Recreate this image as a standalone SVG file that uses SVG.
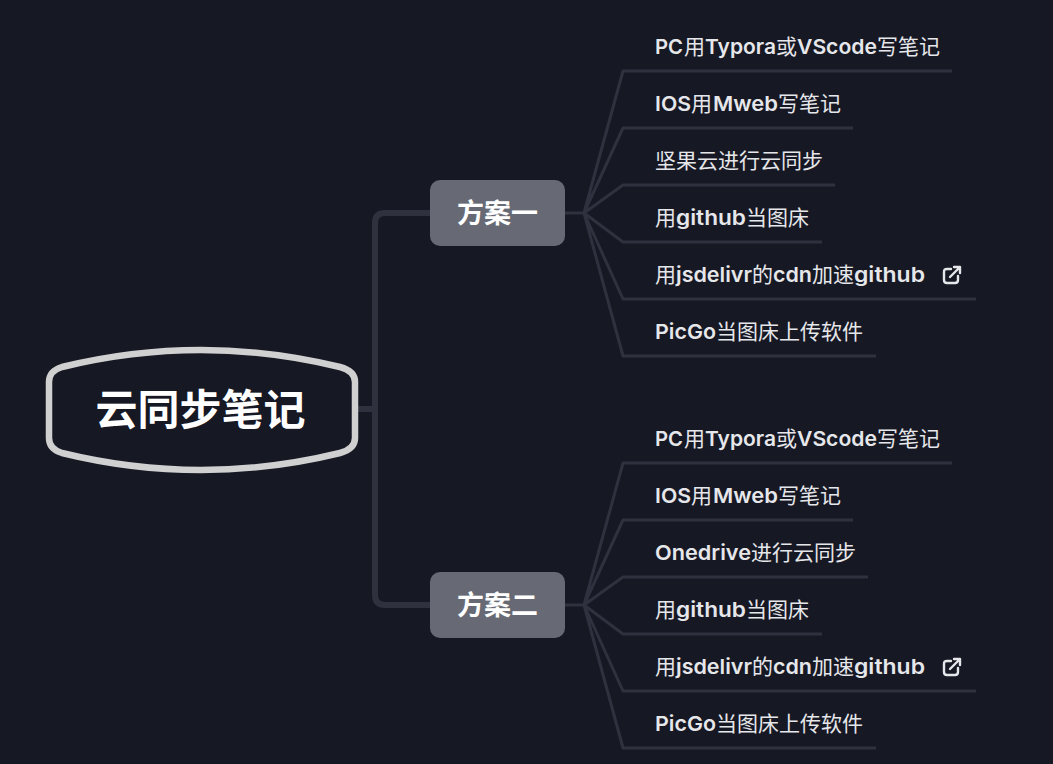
<svg xmlns="http://www.w3.org/2000/svg" width="1053" height="764" viewBox="0 0 1053 764">
<style>
.conn{fill:none;stroke:#2f313f;stroke-linecap:butt;stroke-linejoin:round}
.thick{stroke-width:6}
.thin{stroke-width:3}
.root{fill:#161824;stroke:#d0d0d0;stroke-width:6.5}
.branch{fill:#676a75}
text{font-family:"Noto Sans CJK SC","Noto Sans",sans-serif}
.title{fill:#fff;font-size:42px;font-weight:700}
.sub{fill:#fff;font-size:27px;font-weight:700}
.leaf{fill:#e6e7ea;font-size:21px;font-weight:400}
.l{font-family:Inter,"Liberation Sans",sans-serif;font-weight:600;font-size:20.5px}
.icon{fill:none;stroke:#e6e7ea;stroke-width:2.400;stroke-linecap:round;stroke-linejoin:round}
</style>
<defs>
<g id="ext"><path class="icon" d="M8 3H4Q1 3 1 6V14Q1 17 4 17H12Q15 17 15 14V10M7 11L17 1M11 1H17V7"/></g>
</defs>
<rect width="1053" height="764" fill="#161824"/>
<g id="connectors">
<path class="conn thick" d="M358 409H375M430 213H385Q375 213 375 223V595Q375 605 385 605H430"/>
<path class="conn thin" d="M565 213H584M584 213L623 71H952M584 213L623 128H853M584 213L623 185H835M584 213L623 242H822M584 213L623 299H976M584 213L623 356H876"/>
<path class="conn thin" d="M565 605H584M584 605L623 463H952M584 605L623 520H853M584 605L623 577H868M584 605L623 634H822M584 605L623 691H976M584 605L623 748H876"/>
</g>
<g id="root">
<path class="root" d="M62 367Q201 333 340 367Q355 371 355 382V438Q355 449 340 453Q201 487 62 453Q49 449 49 438V382Q49 371 62 367Z"/>
<text class="title" x="200.500" y="425" text-anchor="middle">云同步笔记</text>
</g>
<g id="plan1">
<rect class="branch" x="430" y="180" width="135" height="66" rx="10"/>
<text class="sub" x="497.500" y="223" text-anchor="middle">方案一</text>
</g>
<g id="plan2">
<rect class="branch" x="430" y="572" width="135" height="66" rx="10"/>
<text class="sub" x="497.500" y="615" text-anchor="middle">方案二</text>
</g>
<g id="a1"><text class="leaf" y="54"><tspan class="l" x="655" textLength="28" lengthAdjust="spacingAndGlyphs">PC</tspan><tspan x="684">用</tspan><tspan class="l" x="705" textLength="71" lengthAdjust="spacingAndGlyphs">Typora</tspan><tspan x="776">或</tspan><tspan class="l" x="797" textLength="80" lengthAdjust="spacingAndGlyphs">VScode</tspan><tspan x="877">写笔记</tspan></text></g>
<g id="a2"><text class="leaf" y="111"><tspan class="l" x="655" textLength="36" lengthAdjust="spacingAndGlyphs">IOS</tspan><tspan x="691">用</tspan><tspan class="l" x="713" textLength="65" lengthAdjust="spacingAndGlyphs">Mweb</tspan><tspan x="778">写笔记</tspan></text></g>
<g id="a3"><text class="leaf" x="655" y="168">坚果云进行云同步</text></g>
<g id="a4"><text class="leaf" y="225"><tspan x="655">用</tspan><tspan class="l" x="676" textLength="70" lengthAdjust="spacingAndGlyphs">github</tspan><tspan x="746">当图床</tspan></text></g>
<g id="a5"><text class="leaf" y="282"><tspan x="655">用</tspan><tspan class="l" x="676" textLength="76" lengthAdjust="spacingAndGlyphs">jsdelivr</tspan><tspan x="752">的</tspan><tspan class="l" x="773" textLength="39" lengthAdjust="spacingAndGlyphs">cdn</tspan><tspan x="812">加速</tspan><tspan class="l" x="854" textLength="71" lengthAdjust="spacingAndGlyphs">github</tspan></text><use href="#ext" x="943" y="266"/></g>
<g id="a6"><text class="leaf" y="339"><tspan class="l" x="655" textLength="61" lengthAdjust="spacingAndGlyphs">PicGo</tspan><tspan x="716">当图床上传软件</tspan></text></g>
<g id="b1"><text class="leaf" y="446"><tspan class="l" x="655" textLength="28" lengthAdjust="spacingAndGlyphs">PC</tspan><tspan x="684">用</tspan><tspan class="l" x="705" textLength="71" lengthAdjust="spacingAndGlyphs">Typora</tspan><tspan x="776">或</tspan><tspan class="l" x="797" textLength="80" lengthAdjust="spacingAndGlyphs">VScode</tspan><tspan x="877">写笔记</tspan></text></g>
<g id="b2"><text class="leaf" y="503"><tspan class="l" x="655" textLength="36" lengthAdjust="spacingAndGlyphs">IOS</tspan><tspan x="691">用</tspan><tspan class="l" x="713" textLength="65" lengthAdjust="spacingAndGlyphs">Mweb</tspan><tspan x="778">写笔记</tspan></text></g>
<g id="b3"><text class="leaf" y="560"><tspan class="l" x="655" textLength="96" lengthAdjust="spacingAndGlyphs">Onedrive</tspan><tspan x="751">进行云同步</tspan></text></g>
<g id="b4"><text class="leaf" y="617"><tspan x="655">用</tspan><tspan class="l" x="676" textLength="70" lengthAdjust="spacingAndGlyphs">github</tspan><tspan x="746">当图床</tspan></text></g>
<g id="b5"><text class="leaf" y="674"><tspan x="655">用</tspan><tspan class="l" x="676" textLength="76" lengthAdjust="spacingAndGlyphs">jsdelivr</tspan><tspan x="752">的</tspan><tspan class="l" x="773" textLength="39" lengthAdjust="spacingAndGlyphs">cdn</tspan><tspan x="812">加速</tspan><tspan class="l" x="854" textLength="71" lengthAdjust="spacingAndGlyphs">github</tspan></text><use href="#ext" x="943" y="658"/></g>
<g id="b6"><text class="leaf" y="731"><tspan class="l" x="655" textLength="61" lengthAdjust="spacingAndGlyphs">PicGo</tspan><tspan x="716">当图床上传软件</tspan></text></g>
</svg>
